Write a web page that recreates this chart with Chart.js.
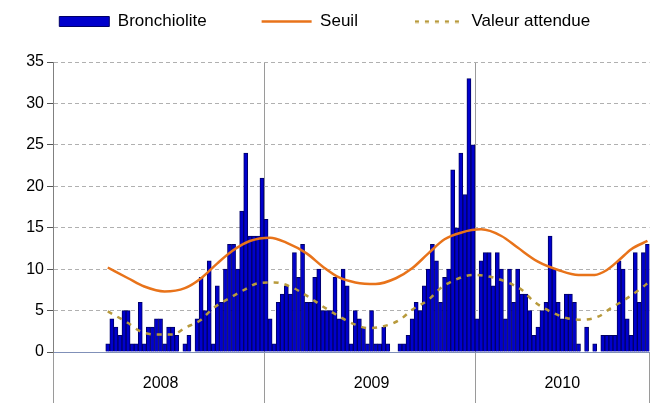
<!DOCTYPE html>
<html>
<head>
<meta charset="utf-8">
<script src="https://cdn.jsdelivr.net/npm/chart.js@4"></script>
<style>
  body { margin: 0; background: #fff; }
  #wrap { width: 661px; height: 403px; }
</style>
</head>
<body>
<div id="wrap"><canvas id="chart"></canvas></div>
<script>
const years = ['2008', '2009', '2010'];
const weeksPerYear = [52, 52, 43];

// weekly cases, series starts at week 14 of 2008
const bronchiolite2008 = [
  null, null, null, null, null, null, null, null, null, null, null, null, null,
  1, 4, 3, 2, 5, 5, 1, 1, 6, 1, 3, 3, 4, 4, 1, 3, 3, 2, 0, 1, 2, 0,
  4, 9, 5, 11, 1, 8, 6, 10, 13, 13, 10, 17, 24, 14, 14, 14, 21
];
const bronchiolite2009 = [
  16, 4, 1, 6, 7, 8, 7, 12, 9, 13, 6, 6, 9, 10, 5, 5, 5, 9, 4, 10, 8, 1, 5, 4, 3, 1,
  5, 1, 1, 3, 1, 0, 0, 1, 1, 2, 4, 6, 5, 8, 10, 13, 11, 6, 9, 10, 22, 15, 24, 19, 33, 25
];
const bronchiolite2010 = [
  4, 11, 12, 12, 8, 12, 10, 4, 10, 6, 10, 7, 7, 5, 2, 3, 5, 6, 14, 10, 6, 4,
  7, 7, 6, 1, 0, 3, 0, 1, 0, 2, 2, 2, 2, 11, 10, 4, 2, 12, 6, 12, 13
];

const seuilWeeks = [
  '2008-S14', '2008-S19', '2008-S23', '2008-S28', '2008-S33', '2008-S37', '2008-S41', '2008-S45', '2008-S49',
  '2009-S02', '2009-S06', '2009-S11', '2009-S15', '2009-S19', '2009-S23', '2009-S28', '2009-S33', '2009-S37',
  '2009-S41', '2009-S45', '2009-S49',
  '2010-S02', '2010-S07', '2010-S11', '2010-S16', '2010-S21', '2010-S26', '2010-S30', '2010-S33', '2010-S36',
  '2010-S39', '2010-S43'
];
const seuilValues = [
  10.2, 8.9, 7.9, 7.3, 7.7, 8.9, 10.7, 12.3, 13.4,
  13.8, 13.2, 11.9, 10.3, 9.0, 8.4, 8.2, 8.9, 10.1, 11.9, 13.6, 14.4,
  14.8, 14.0, 12.6, 10.9, 9.9, 9.3, 9.3, 9.9, 11.1, 12.4, 13.4
];

const attendueWeeks = [
  '2008-S14', '2008-S19', '2008-S22', '2008-S26', '2008-S30', '2008-S33', '2008-S37', '2008-S40', '2008-S44',
  '2008-S48', '2008-S51',
  '2009-S03', '2009-S07', '2009-S11', '2009-S15', '2009-S19', '2009-S23', '2009-S26', '2009-S30', '2009-S34',
  '2009-S37', '2009-S41', '2009-S44', '2009-S48', '2009-S52',
  '2010-S04', '2010-S08', '2010-S12', '2010-S15', '2010-S19', '2010-S23', '2010-S27', '2010-S31', '2010-S34',
  '2010-S38', '2010-S42', '2010-S43'
];
const attendueValues = [
  4.9, 3.5, 2.5, 2.1, 2.1, 2.9, 3.9, 5.3, 6.5, 7.6, 8.3,
  8.4, 7.9, 6.8, 5.5, 4.3, 3.3, 2.9, 3.1, 3.9, 5.1, 6.3, 7.7, 8.8, 9.3,
  9.1, 8.5, 7.5, 6.1, 4.9, 4.1, 3.9, 4.3, 5.3, 6.5, 7.9, 8.3
];

// week categories and where each year starts
const weekLabels = [];
const yearStarts = [];
years.forEach((y, i) => {
  yearStarts.push(weekLabels.length);
  for (let w = 1; w <= weeksPerYear[i]; w++) {
    weekLabels.push(y + '-S' + String(w).padStart(2, '0'));
  }
});
const yearLabelAt = {};
yearStarts.forEach((s, i) => { yearLabelAt[s + Math.floor(weeksPerYear[i] / 2)] = years[i]; });

const toPoints = (weeks, values) => weeks.map((w, i) => ({ x: w, y: values[i] }));

const attendueColor = '#b89a3c';

// dashed marker for the legend (legend point styles ignore borderDash)
const dashMark = document.createElement('canvas');
dashMark.width = 46;
dashMark.height = 4;
const dctx = dashMark.getContext('2d');
dctx.strokeStyle = attendueColor;
dctx.lineWidth = 2.5;
dctx.setLineDash([4, 6]);
dctx.beginPath();
dctx.moveTo(0, 2);
dctx.lineTo(46, 2);
dctx.stroke();

Chart.defaults.font.family = "'Liberation Sans', Arial, sans-serif";
Chart.defaults.color = '#000';

const divider = '#9a9a9a';

new Chart(document.getElementById('chart'), {
  type: 'bar',
  data: {
    labels: weekLabels,
    datasets: [{
      label: 'Bronchiolite',
      data: [...bronchiolite2008, ...bronchiolite2009, ...bronchiolite2010],
      backgroundColor: '#0000cc',
      borderColor: '#000066',
      borderWidth: 1,
      barPercentage: 1,
      categoryPercentage: 1,
      order: 3
    }, {
      type: 'line',
      label: 'Seuil',
      data: toPoints(seuilWeeks, seuilValues),
      borderColor: '#e8731a',
      borderWidth: 2.5,
      pointRadius: 0,
      cubicInterpolationMode: 'monotone',
      order: 1
    }, {
      type: 'line',
      label: 'Valeur attendue',
      data: toPoints(attendueWeeks, attendueValues),
      borderColor: attendueColor,
      borderWidth: 2.5,
      borderDash: [5, 6],
      pointRadius: 0,
      cubicInterpolationMode: 'monotone',
      order: 2
    }]
  },
  options: {
    responsive: true,
    maintainAspectRatio: false,
    animation: false,
    layout: { padding: { top: -42, right: 11.5, bottom: 0, left: 0 } },
    plugins: {
      tooltip: { enabled: false },
      title: { display: true, text: '', weight: 500, padding: 0, font: { size: 12, lineHeight: '22px' } },
      legend: {
        position: 'top',
        labels: {
          font: { size: 17 },
          padding: 55,
          usePointStyle: true,
          pointStyleWidth: 50,
          boxHeight: 10,
          generateLabels: chart => {
            const items = Chart.defaults.plugins.legend.labels.generateLabels(chart);
            items.forEach(it => {
              it.pointStyle = it.datasetIndex === 0 ? 'rect' : (it.datasetIndex === 2 ? dashMark : 'line');
            });
            return items;
          },
          sort: (a, b) => a.datasetIndex - b.datasetIndex
        }
      }
    },
    scales: {
      x: {
        afterFit: s => { s.height = 51; },
        grid: {
          color: ctx => (ctx.index !== undefined && yearStarts.includes(ctx.index)) ? divider : 'transparent',
          tickColor: ctx => (ctx.index === undefined || yearStarts.includes(ctx.index)) ? divider : 'transparent',
          tickLength: 51
        },
        border: { color: '#8090b8' },
        ticks: {
          autoSkip: false,
          maxRotation: 0,
          minRotation: 0,
          padding: -29,
          font: { size: 16 },
          callback: (value, index) => yearLabelAt[index] || ''
        }
      },
      y: {
        min: 0,
        max: 35,
        afterFit: s => { s.width = 53; },
        ticks: { stepSize: 5, padding: 3, font: { size: 16 } },
        grid: { color: '#b0b0b0', tickColor: '#555', tickLength: 6 },
        border: { color: '#808080', dash: [4, 3] }
      }
    }
  }
});
</script>
</body>
</html>
